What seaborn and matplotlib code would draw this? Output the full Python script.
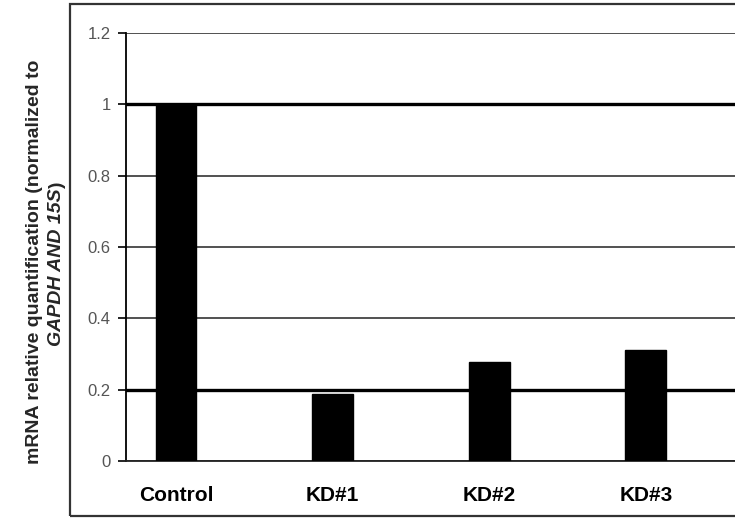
import matplotlib
matplotlib.use("Agg")
import matplotlib.pyplot as plt
import seaborn as sns
import pandas as pd
from matplotlib.patches import Rectangle

categories = ["Control", "KD#1", "KD#2", "KD#3"]
values = [1.0, 0.187, 0.277, 0.31]
ytick_vals = [0, 0.2, 0.4, 0.6, 0.8, 1.0, 1.2]
ytick_labels = ["0", "0.2", "0.4", "0.6", "0.8", "1", "1.2"]

sns.set_theme(style="white")
plt.rcParams['font.family'] = ['Liberation Sans', 'DejaVu Sans']

df = pd.DataFrame({"cat": categories, "val": values})

fig = plt.figure(figsize=(7.35, 5.18), dpi=100)
ax = fig.add_axes([126/735, 1-461/518, 1-126/735, (461-33)/518])

sns.barplot(data=df, x="cat", y="val", order=categories, color="black",
            width=0.26, ax=ax, saturation=1, edgecolor="black", zorder=3)

ax.set_ylim(0, 1.2)
ax.set_xlim(-0.32, 3.57)
ax.set_yticks(ytick_vals)
ax.set_yticklabels(ytick_labels)
ax.set_xlabel("")
ax.set_ylabel("")

for s in ["top", "right"]:
    ax.spines[s].set_visible(False)
ax.spines["left"].set_color("black")
ax.spines["left"].set_linewidth(1.3)
ax.spines["bottom"].set_color("#222222")
ax.spines["bottom"].set_linewidth(1.3)

ax.yaxis.grid(True)
gl = ax.get_ygridlines()
for v, line in zip(ytick_vals, gl):
    if v in (0.2, 1.0):
        line.set_linewidth(2.4)
        line.set_color("black")
    else:
        line.set_linewidth(1.2)
        line.set_color("#333333")
    line.set_zorder(1)

ax.tick_params(axis="y", which="major", direction="out", length=6, width=1.2,
               color="black", left=True, labelsize=12, labelcolor="#555555", pad=5)
ax.tick_params(axis="x", which="major", length=0, pad=18)
for lbl in ax.get_xticklabels():
    lbl.set_fontweight("bold")
    lbl.set_fontsize(15)
    lbl.set_color("black")

# y label two lines
fs = 14
fig.text(35/735, 1-262/518, "mRNA relative quantification (normalized to",
         rotation=90, ha="center", va="center", fontsize=fs, fontweight="bold")

# second line: italic bold part + upright ")"
x2 = 57/735
t_it = fig.text(x2, 0.5, "GAPDH AND 15S", rotation=90, ha="center", va="bottom",
                fontsize=fs, fontweight="bold", fontstyle="italic")
t_par = fig.text(x2, 0.5, ")", rotation=90, ha="center", va="bottom",
                 fontsize=fs, fontweight="bold")
fig.canvas.draw()
r = fig.canvas.get_renderer()
h_it = t_it.get_window_extent(r).height / fig.bbox.height
h_par = t_par.get_window_extent(r).height / fig.bbox.height
total = h_it + h_par
ycen = 1 - 264/518
ystart = ycen - total/2
t_it.set_position((x2, ystart))
t_par.set_position((x2, ystart + h_it))

# outer frame
fig.patches.append(Rectangle((70/735, 1-516/518), 1.0, (516-4)/518,
                             transform=fig.transFigure, fill=False,
                             edgecolor="#333333", linewidth=1.6, zorder=0))

fig.savefig("out.png", dpi=100)
